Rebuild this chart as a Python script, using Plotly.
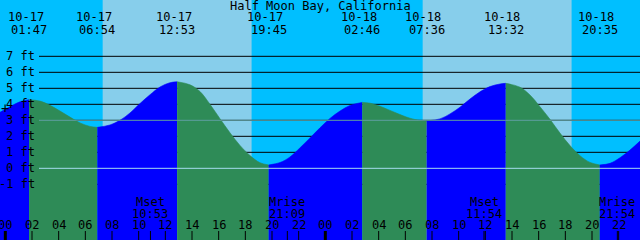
import plotly.graph_objects as go

TITLE = "Half Moon Bay, California"
DAY0 = "10-17"

# tide extremes (high/low)
EVENT_DATES = ["10-17", "10-17", "10-17", "10-17", "10-18", "10-18", "10-18", "10-18"]
EVENT_CLOCKS = ["01:47", "06:54", "12:53", "19:45", "02:46", "07:36", "13:32", "20:35"]
EVENT_LEVELS = [4.29, 2.56, 5.41, 0.21, 4.12, 2.96, 5.31, 0.21]

# tide level (hours since 10-17 00:00, feet)
SAMPLE_HOURS = [-0.40, 0.35, 1.10, 2.60, 3.35, 4.10, 4.85, 5.60, 6.35,
                7.85, 8.60, 9.35, 10.10, 10.85, 11.60, 12.35,
                13.85, 14.60, 15.35, 16.10, 16.85, 17.60, 18.35, 19.10,
                20.60, 21.35, 22.10, 22.85, 23.60, 24.35, 25.10, 25.85,
                27.35, 28.10, 28.85, 29.60, 30.35, 31.10,
                32.60, 33.35, 34.10, 34.85, 35.60, 36.35, 37.10,
                38.60, 39.35, 40.10, 40.85, 41.60, 42.35, 43.10, 43.85,
                45.35, 46.10, 46.85, 47.60]
SAMPLE_LEVELS = [3.50, 3.85, 4.16, 4.20, 3.94, 3.58, 3.20, 2.84, 2.62,
                 2.71, 3.00, 3.46, 4.05, 4.60, 5.08, 5.35,
                 5.22, 4.80, 4.00, 3.10, 2.22, 1.43, 0.80, 0.35,
                 0.36, 0.71, 1.28, 1.90, 2.53, 3.12, 3.58, 3.93,
                 4.07, 3.88, 3.62, 3.36, 3.13, 2.99,
                 3.09, 3.40, 3.82, 4.33, 4.78, 5.11, 5.27,
                 5.07, 4.58, 3.85, 3.06, 2.20, 1.42, 0.79, 0.37,
                 0.31, 0.66, 1.14, 1.70]

SUN_DATES = ["10-17", "10-17", "10-18", "10-18"]
SUN_CLOCKS = ["07:18", "18:29", "07:18", "18:29"]
SUN_KINDS = ["rise", "set", "rise", "set"]

MOON_NAMES = ["Mset", "Mrise", "Mset", "Mrise"]
MOON_DATES = ["10-17", "10-17", "10-18", "10-18"]
MOON_CLOCKS = ["10:53", "21:09", "11:54", "21:54"]

DEPTH_FT = [-1, 0, 1, 2, 3, 4, 5, 6, 7]
MSL_FT = 3.0
DATUM_FT = 0.0
HOUR_TICKS = list(range(0, 49, 2))
MARK_HOUR = 0.0
MARK_LEVEL = 3.75

X_RANGE = [-0.4, 47.6]
Y_RANGE = [-4.48, 10.52]

NIGHT = "#00BFFF"
DAY = "#87CEEB"
RISE = "#0000FF"
FALL = "#2E8B57"
MSL_COLOR = "#5F9EA0"
DATUM_COLOR = "#A6DCEF"
FONT = dict(family="DejaVu Sans Mono", size=12, color="black")
W, H = 640, 240


def to_hours(date, clock):
    day = 0 if date == DAY0 else 24
    hh, mm = clock.split(":")
    return day + int(hh) + int(mm) / 60.0


event_hours = [to_hours(d, c) for d, c in zip(EVENT_DATES, EVENT_CLOCKS)]
sun_hours = [to_hours(d, c) for d, c in zip(SUN_DATES, SUN_CLOCKS)]
moon_hours = [to_hours(d, c) for d, c in zip(MOON_DATES, MOON_CLOCKS)]

points = sorted(zip(SAMPLE_HOURS + event_hours, SAMPLE_LEVELS + EVENT_LEVELS))

fig = go.Figure()

bounds = [X_RANGE[0]] + event_hours + [X_RANGE[1]]
for a, b in zip(bounds[:-1], bounds[1:]):
    seg = [(t, v) for t, v in points if a - 1e-6 <= t <= b + 1e-6]
    xs = [p[0] for p in seg]
    ys = [p[1] for p in seg]
    color = RISE if ys[-1] > ys[0] else FALL
    fig.add_trace(go.Scatter(x=xs, y=[Y_RANGE[0]] * len(xs), mode="lines",
                             line=dict(width=0), hoverinfo="skip", showlegend=False))
    fig.add_trace(go.Scatter(x=xs, y=ys, mode="lines", fill="tonexty",
                             fillcolor=color,
                             line=dict(width=0.6, color=color, shape="spline", smoothing=1),
                             hoverinfo="skip", showlegend=False))

shapes = []
# sky bands
edges = [X_RANGE[0]] + sun_hours + [X_RANGE[1]]
kinds = ["night"] + ["day" if k == "rise" else "night" for k in SUN_KINDS]
for (a, b), k in zip(zip(edges[:-1], edges[1:]), kinds):
    shapes.append(dict(type="rect", xref="x", yref="paper", x0=a, x1=b, y0=0, y1=1,
                       fillcolor=DAY if k == "day" else NIGHT, line=dict(width=0),
                       layer="below"))
# depth lines (behind water)
for d in DEPTH_FT:
    shapes.append(dict(type="line", xref="paper", yref="y", x0=39 / W, x1=1, y0=d, y1=d,
                       line=dict(color="black", width=1), layer="below"))
# MSL and datum lines on top
shapes.append(dict(type="line", xref="paper", yref="y", x0=39 / W, x1=1, y0=MSL_FT, y1=MSL_FT,
                   line=dict(color=MSL_COLOR, width=1), layer="above"))
shapes.append(dict(type="line", xref="paper", yref="y", x0=39 / W, x1=1, y0=DATUM_FT, y1=DATUM_FT,
                   line=dict(color=DATUM_COLOR, width=1), layer="above"))
# hour ticks
for h in HOUR_TICKS:
    shapes.append(dict(type="line", xref="x", yref="paper", x0=h, x1=h, y0=0, y1=9 / H,
                       line=dict(color="black", width=3 if h % 24 == 0 else 1), layer="above"))
for m in moon_hours:
    shapes.append(dict(type="line", xref="x", yref="paper", x0=m, x1=m, y0=0, y1=9 / H,
                       line=dict(color="black", width=1), layer="above"))

ann = []
ann.append(dict(text=TITLE, xref="paper", yref="paper", x=0.5, y=1 - 6 / H,
                xanchor="center", yanchor="middle", showarrow=False, font=FONT))
for t, d, c in zip(event_hours, EVENT_DATES, EVENT_CLOCKS):
    ann.append(dict(text=d, xref="x", yref="paper", x=t, y=1 - 17 / H, xshift=-3.5,
                    xanchor="center", yanchor="middle", showarrow=False, font=FONT))
    ann.append(dict(text=c, xref="x", yref="paper", x=t, y=1 - 29.5 / H,
                    xanchor="center", yanchor="middle", showarrow=False, font=FONT))
for d in DEPTH_FT:
    ann.append(dict(text=f"{d} ft", xref="paper", yref="y", x=36.5 / W, y=d,
                    xanchor="right", yanchor="middle", showarrow=False, font=FONT))
for n, t, c in zip(MOON_NAMES, moon_hours, MOON_CLOCKS):
    ann.append(dict(text=n, xref="x", yref="paper", x=t, y=1 - 202 / H,
                    xanchor="center", yanchor="middle", showarrow=False, font=FONT))
    ann.append(dict(text=c, xref="x", yref="paper", x=t, y=1 - 213.5 / H,
                    xanchor="center", yanchor="middle", showarrow=False, font=FONT))
for h in HOUR_TICKS:
    ann.append(dict(text=f"{h % 24:02d}", xref="x", yref="paper", x=h, y=1 - 225 / H,
                    xanchor="center", yanchor="middle", showarrow=False, font=FONT))
ann.append(dict(text="+", xref="x", yref="y", x=MARK_HOUR, y=MARK_LEVEL,
                xanchor="center", yanchor="middle", showarrow=False,
                font=dict(family="DejaVu Sans Mono", size=14, color="black")))

fig.update_layout(
    width=W, height=H, margin=dict(l=0, r=0, t=0, b=0),
    paper_bgcolor=NIGHT, plot_bgcolor=NIGHT,
    xaxis=dict(range=X_RANGE, visible=False, fixedrange=True),
    yaxis=dict(range=Y_RANGE, visible=False, fixedrange=True),
    shapes=shapes, annotations=ann, showlegend=False,
)
fig.write_html("out.html", config={"displayModeBar": False})
